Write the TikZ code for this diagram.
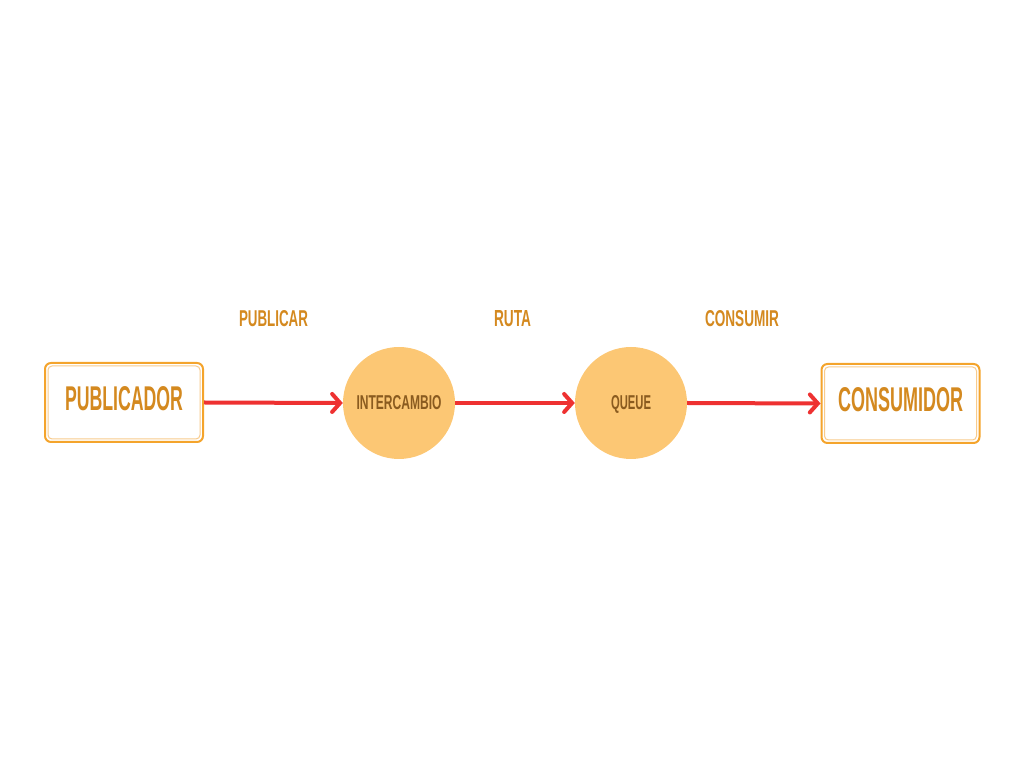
\documentclass[tikz,border=0pt]{standalone}
\usepackage{fontspec}
\setmainfont{Liberation Sans}
\usetikzlibrary{arrows.meta}
\definecolor{boxline}{HTML}{F4A42C}
\definecolor{boxinner}{HTML}{F8CB8C}
\definecolor{labeltxt}{HTML}{D4891F}
\definecolor{ballfill}{HTML}{FCC774}
\definecolor{balltxt}{HTML}{8A5B1F}
\definecolor{flowred}{HTML}{EE3131}
% condensed caps: width, height, text (depth dropped)
\newcommand{\capsfit}[3]{\raisebox{0pt}[#2pt][0pt]{\resizebox{#1pt}{#2pt}{\textbf{#3}}}}
\tikzset{
  endbox/.style={draw=boxline,line width=2pt,rounded corners=6pt,fill=white,
    minimum width=158pt,minimum height=79pt,inner sep=0pt,text=labeltxt},
  innerline/.style={draw=boxinner,line width=1pt,rounded corners=4pt},
  ball/.style={circle,fill=ballfill,minimum size=112pt,inner sep=0pt,text=balltxt},
  steplabel/.style={text=labeltxt,inner sep=0pt},
  flow/.style={draw=flowred,line width=4pt,
    -{Straight Barb[length=8pt,width=18pt,line cap=round]}}
}
\begin{document}
\begin{tikzpicture}[x=1pt,y=1pt]
  \useasboundingbox (0,0) rectangle (1024,768);
  % ends
  \node[endbox] (pub) at (124,365.5) {\raisebox{8pt}{\capsfit{118}{24}{PUBLICADOR}}};
  \node[endbox] (con) at (900.5,364.5) {\raisebox{8pt}{\capsfit{125}{24}{CONSUMIDOR}}};
  \draw[innerline] ([shift={(4,4)}]pub.south west) rectangle ([shift={(-4,-4)}]pub.north east);
  \draw[innerline] ([shift={(4,4)}]con.south west) rectangle ([shift={(-4,-4)}]con.north east);
  % exchange and queue
  \node[ball] (ex) at (399,365) {\capsfit{85}{14}{INTERCAMBIO}};
  \node[ball] (qu) at (631,365) {\capsfit{40}{14}{QUEUE}};
  % step labels
  \node[steplabel] (lpub) at (273.5,449) {\capsfit{69}{16}{PUBLICAR}};
  \node[steplabel] (lrut) at (512.5,449) {\capsfit{37}{16}{RUTA}};
  \node[steplabel] (lcon) at (742,449) {\capsfit{74}{16}{CONSUMIR}};
  % flows
  \draw[flow] (pub.east) -- (ex.west);
  \draw[flow] (ex.east) -- (qu.west);
  \draw[flow] (qu.east) -- (con.west);
\end{tikzpicture}
\end{document}
